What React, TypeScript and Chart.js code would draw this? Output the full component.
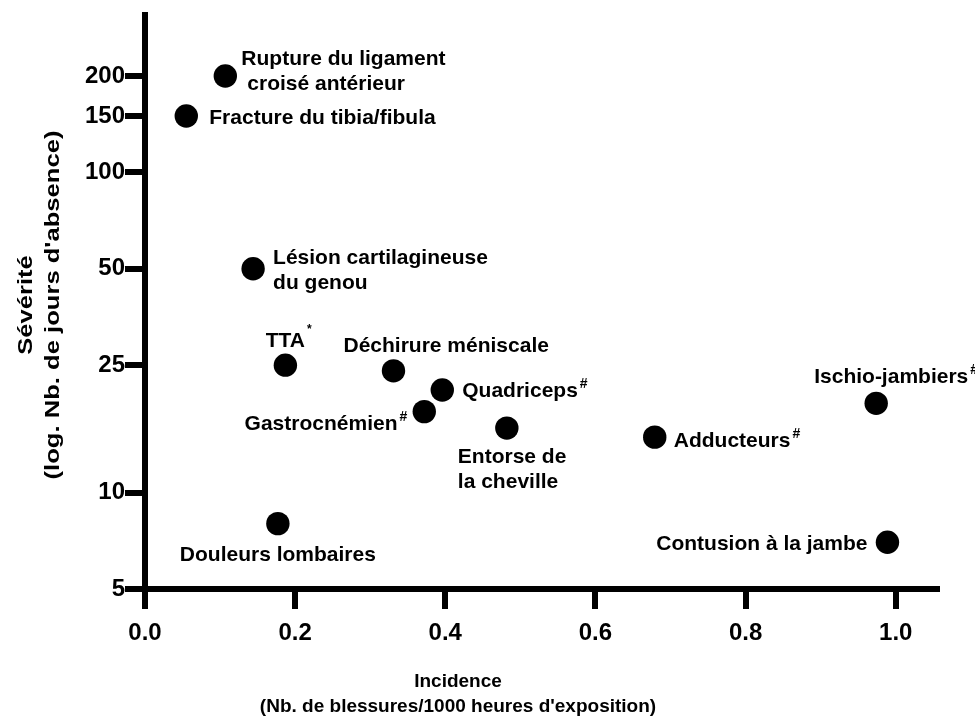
import React, { useEffect, useRef } from "react";
import { Chart, registerables } from "chart.js";

Chart.register(...registerables);

// ---- Data ----
const injuryLabels: string[][] = [
  ["Rupture du ligament", "croisé antérieur"],
  ["Fracture du tibia/fibula"],
  ["Lésion cartilagineuse", "du genou"],
  ["TTA"],
  ["Déchirure méniscale"],
  ["Quadriceps"],
  ["Gastrocnémien"],
  ["Entorse de", "la cheville"],
  ["Adducteurs"],
  ["Ischio-jambiers"],
  ["Contusion à la jambe"],
  ["Douleurs lombaires"],
];
const superscripts = ["", "", "", "*", "", "#", "#", "", "#", "#", "", ""];
const incidence = [0.107, 0.055, 0.144, 0.187, 0.331, 0.396, 0.372, 0.482, 0.679, 0.974, 0.989, 0.177];
const severity = [200, 150, 50, 25, 24, 20.9, 17.9, 15.9, 14.9, 19.0, 7.0, 8.0];
const xTicks = [0, 0.2, 0.4, 0.6, 0.8, 1.0];
const yTicks = [5, 10, 25, 50, 100, 150, 200];
const xTitle = ["Incidence", "(Nb. de blessures/1000 heures d'exposition)"];
const yTitle = ["Sévérité", "(log. Nb. de jours d'absence)"];

// ---- Layout / style (label offsets relative to each point, in px) ----
const labelLayout: { align: "left" | "center" | "right"; lines: [number, number][] }[] = [
  { align: "left", lines: [[16, -18], [22, 7]] },
  { align: "left", lines: [[23, 1]] },
  { align: "left", lines: [[20, -12], [20, 13]] },
  { align: "center", lines: [[0, -26]] },
  { align: "left", lines: [[-50, -26]] },
  { align: "left", lines: [[20, -1]] },
  { align: "right", lines: [[-17, 11]] },
  { align: "left", lines: [[-49, 27], [-49, 52]] },
  { align: "left", lines: [[19, 2]] },
  { align: "left", lines: [[-62, -28]] },
  { align: "right", lines: [[-20, 0]] },
  { align: "center", lines: [[0, 30]] },
];

const FONT = "'Liberation Sans', Arial, Helvetica, sans-serif";
const LABEL_SIZE = 21;
const TICK_SIZE = 24;
const TITLE_SIZE = 19;
const YTITLE_SIZE = 20;
const CAP = 0.716;
const LINE_W = 6;

const overlayPlugin = {
  id: "overlayText",
  afterDatasetsDraw(chart: any) {
    const { ctx, chartArea } = chart;
    const meta = chart.getDatasetMeta(0);
    ctx.save();
    ctx.fillStyle = "#000";
    ctx.textAlign = "left";
    ctx.textBaseline = "alphabetic";
    meta.data.forEach((pt: any, i: number) => {
      const lay = labelLayout[i];
      const lines = injuryLabels[i];
      lines.forEach((line, j) => {
        const [dx, dy] = lay.lines[j];
        const mainFont = `bold ${LABEL_SIZE}px ${FONT}`;
        ctx.font = mainFont;
        const w = ctx.measureText(line).width;
        const sup = j === lines.length - 1 ? superscripts[i] : "";
        const supSize = sup === "*" ? 12 : 14;
        const supRaise = sup === "*" ? 14 : 9;
        const supFont = `bold ${supSize}px ${FONT}`;
        let sw = 0;
        if (sup) {
          ctx.font = supFont;
          sw = ctx.measureText(sup).width + 2;
        }
        let x0: number;
        if (lay.align === "left") x0 = pt.x + dx;
        else if (lay.align === "center") x0 = pt.x + dx - w / 2;
        else x0 = pt.x + dx - w - sw;
        const baseline = pt.y + dy + (LABEL_SIZE * CAP) / 2;
        ctx.font = mainFont;
        ctx.fillText(line, x0, baseline);
        if (sup) {
          ctx.font = supFont;
          ctx.fillText(sup, x0 + w + 2, baseline - supRaise);
        }
      });
    });

    // X axis title
    ctx.textAlign = "center";
    ctx.font = `bold ${TITLE_SIZE}px ${FONT}`;
    const xc = chartArea.left + 313;
    ctx.fillText(xTitle[0], xc, chartArea.bottom + 91 + (TITLE_SIZE * CAP) / 2);
    ctx.fillText(xTitle[1], xc, chartArea.bottom + 116 + (TITLE_SIZE * CAP) / 2);

    // Y axis title (rotated, stretched along its length)
    const yc = (chartArea.top + chartArea.bottom) / 2 + 3;
    const xs = [chartArea.left - 120.5, chartArea.left - 93];
    ctx.font = `bold ${YTITLE_SIZE}px ${FONT}`;
    yTitle.forEach((t, k) => {
      ctx.save();
      ctx.translate(xs[k], yc);
      ctx.rotate(-Math.PI / 2);
      ctx.scale(1.28, 1);
      ctx.fillText(t, 0, (YTITLE_SIZE * CAP) / 2);
      ctx.restore();
    });
    ctx.restore();
  },
};

export default function App() {
  const canvasRef = useRef<HTMLCanvasElement | null>(null);

  useEffect(() => {
    const canvas = canvasRef.current;
    if (!canvas) return;
    const tickFont = { family: FONT, size: TICK_SIZE, weight: "bold" as const };
    const gridOpts = {
      display: true,
      drawOnChartArea: false,
      drawTicks: true,
      tickLength: 20,
      tickWidth: LINE_W,
      tickColor: "#000",
      lineWidth: LINE_W,
      color: "#000",
    };
    const borderOpts = { display: true, width: LINE_W, color: "#000" };
    const chart = new Chart(canvas, {
      type: "scatter",
      data: {
        datasets: [
          {
            data: incidence.map((x, i) => ({ x, y: severity[i] })),
            backgroundColor: "#000",
            borderColor: "#000",
            borderWidth: 0,
            pointRadius: 11.7,
            pointHoverRadius: 11.7,
          },
        ],
      },
      options: {
        responsive: false,
        animation: false,
        events: [],
        layout: { padding: { top: 15, right: 38, left: 0, bottom: 0 } },
        plugins: { legend: { display: false }, tooltip: { enabled: false } },
        scales: {
          x: {
            type: "linear",
            min: 0,
            max: 1.055,
            afterBuildTicks: (s: any) => {
              s.ticks = xTicks.map((v) => ({ value: v }));
            },
            afterFit: (s: any) => {
              s.height = 127;
            },
            ticks: {
              font: tickFont,
              color: "#000",
              padding: 10,
              maxRotation: 0,
              autoSkip: false,
              callback: (v: any) => Number(v).toFixed(1),
            },
            grid: gridOpts,
            border: borderOpts,
          },
          y: {
            type: "logarithmic",
            min: 5,
            max: 310,
            afterBuildTicks: (s: any) => {
              s.ticks = yTicks.map((v) => ({ value: v }));
            },
            afterFit: (s: any) => {
              s.width = 145;
            },
            ticks: {
              font: tickFont,
              color: "#000",
              padding: 0,
              autoSkip: false,
              callback: (v: any) => String(v),
            },
            grid: gridOpts,
            border: borderOpts,
          },
        },
      },
      plugins: [overlayPlugin],
    } as any);
    return () => chart.destroy();
  }, []);

  return (
    <div style={{ position: "absolute", left: 0, top: 0, width: 975, height: 716, background: "#fff" }}>
      <canvas ref={canvasRef} width={975} height={716} style={{ display: "block" }} />
    </div>
  );
}
